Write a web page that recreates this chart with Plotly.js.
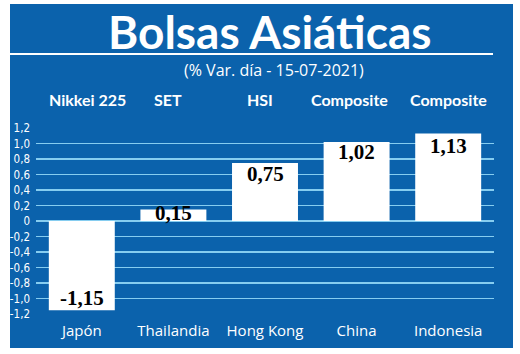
<!DOCTYPE html>
<html>
<head>
<meta charset="utf-8">
<script src="https://cdn.plot.ly/plotly-3.0.1.min.js"></script>
<style>
  html, body { margin: 0; padding: 0; background: #ffffff; width: 520px; height: 354px; overflow: hidden; }
  #chart { position: absolute; left: 10px; top: 4px; width: 503px; height: 344px; }
</style>
</head>
<body>
<div id="chart"></div>
<script>
// ---- data ----
var countries = ["Japón", "Thailandia", "Hong Kong", "China", "Indonesia"];
var indices = ["Nikkei 225", "SET", "HSI", "Composite", "Composite"];
var values = [-1.15, 0.15, 0.75, 1.02, 1.13];
var valueLabels = ["-1,15", "0,15", "0,75", "1,02", "1,13"];
var tickValues = [-1.2, -1.0, -0.8, -0.6, -0.4, -0.2, 0, 0.2, 0.4, 0.6, 0.8, 1.0, 1.2];
var tickLabels = ["-1,2", "-1,0", "-0,8", "-0,6", "-0,4", "-0,2", "0", "0,2", "0,4", "0,6", "0,8", "1,0", "1,2"];
var titleText = "Bolsas Asiáticas";
var subtitleText = "(% Var. día - 15-07-2021)";

// ---- styling / placement (not data) ----
var labelInset = [12, 4, 11, 10, 13];       // px from bar end to label centre
var indexLabelX = [87, 168, 260, 349, 448];  // page px centres of index names

// ---- geometry helpers (page pixel -> paper coords) ----
var DIV_L = 10, DIV_T = 4, W = 503, H = 344;
var M = { l: 26, r: 19, t: 124, b: 34 };
function px(pageX) { return (pageX - DIV_L - M.l) / (W - M.l - M.r); }
function py(pageY) { return (H - M.b - (pageY - DIV_T)) / (H - M.t - M.b); }

var BLUE = "#0b62ac";
var GRID = "#86cdf0";
var CONDENSED = "'DejaVu Sans Condensed', Lato, sans-serif";

var trace = {
  type: "bar",
  x: countries,
  y: values,
  marker: { color: "#ffffff", line: { width: 0 } },
  hoverinfo: "none"
};

var annotations = [
  { text: titleText, xref: "paper", yref: "paper", x: px(269), y: py(31), xanchor: "center", yanchor: "middle",
    showarrow: false, font: { family: "Lato, sans-serif", size: 46, color: "#ffffff", weight: 700 } },
  { text: subtitleText, xref: "paper", yref: "paper", x: px(274), y: py(70), xanchor: "center", yanchor: "middle",
    showarrow: false, font: { family: "Open Sans, sans-serif", size: 16, color: "#ffffff" } }
];
for (var i = 0; i < indices.length; i++) {
  annotations.push({ text: indices[i], xref: "paper", yref: "paper", x: px(indexLabelX[i]), y: py(100),
    xanchor: "center", yanchor: "middle", showarrow: false,
    font: { family: "Lato, sans-serif", size: 16, color: "#ffffff", weight: 700 } });
}
for (var j = 0; j < values.length; j++) {
  annotations.push({ text: valueLabels[j], xref: "x", yref: "y", x: countries[j], y: values[j],
    xanchor: "center", yanchor: "middle", showarrow: false,
    yshift: values[j] >= 0 ? -labelInset[j] : labelInset[j],
    font: { family: "Liberation Serif, Times New Roman, serif", size: 21, color: "#000000", weight: 700 } });
}

var layout = {
  width: W, height: H,
  margin: M,
  paper_bgcolor: BLUE,
  plot_bgcolor: "rgba(0,0,0,0)",
  separators: ",.",
  bargap: 0.28,
  showlegend: false,
  xaxis: {
    type: "category",
    showgrid: false, zeroline: false, showline: false, ticks: "",
    tickfont: { family: "Open Sans, sans-serif", size: 15, color: "#ffffff" },
    ticklabelstandoff: 6,
    fixedrange: true
  },
  yaxis: {
    range: [-1.2, 1.2],
    tickvals: tickValues,
    ticktext: tickLabels,
    showgrid: true, gridcolor: GRID, gridwidth: 1.5,
    zeroline: true, zerolinecolor: GRID, zerolinewidth: 1.5,
    showline: false, ticks: "",
    tickfont: { family: CONDENSED, size: 11.5, color: "#ffffff" },
    ticklabelstandoff: 5,
    fixedrange: true
  },
  shapes: [
    { type: "line", xref: "paper", yref: "paper", x0: px(10), x1: px(493), y0: py(54), y1: py(54),
      line: { color: "#ffffff", width: 2 } }
  ],
  annotations: annotations
};

Plotly.newPlot("chart", [trace], layout, { staticPlot: true, displayModeBar: false });
</script>
</body>
</html>
